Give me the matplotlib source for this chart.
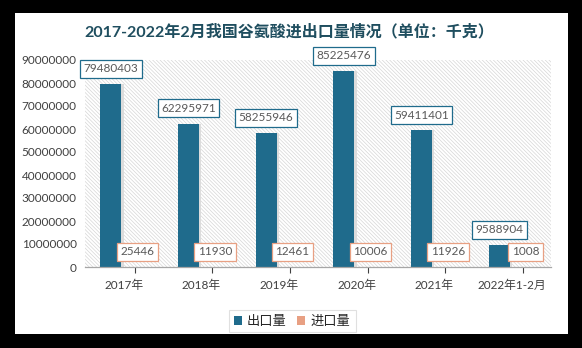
import matplotlib
matplotlib.use("Agg")
import matplotlib.pyplot as plt
from matplotlib.patches import Rectangle, Patch
import numpy as np

categories = ["2017年", "2018年", "2019年", "2020年", "2021年", "2022年1-2月"]
export_vals = [79480403, 62295971, 58255946, 85225476, 59411401, 9588904]
import_vals = [25446, 11930, 12461, 10006, 11926, 1008]
yticks = [0, 10000000, 20000000, 30000000, 40000000, 50000000, 60000000, 70000000, 80000000, 90000000]
title = "2017-2022年2月我国谷氨酸进出口量情况（单位：千克）"

plt.rcParams['font.family'] = ['Lato', 'Noto Sans CJK SC', 'DejaVu Sans']
plt.rcParams['hatch.linewidth'] = 0.5
plt.rcParams['hatch.color'] = '#D6D6D6'

W, H = 582, 348
fig = plt.figure(figsize=(W / 100, H / 100), dpi=100, facecolor='black')
fig.patches.append(Rectangle((15 / W, 1 - 334 / H), (568 - 15) / W, (334 - 13) / H,
                             transform=fig.transFigure, facecolor='white', edgecolor='none', zorder=-5))

ax = fig.add_axes([85 / W, 1 - 267 / H, (551 - 85) / W, (267 - 60) / H])
ax.set_zorder(1)
ax.set_facecolor('white')
ax.add_patch(Rectangle((0, 0), 1, 1, transform=ax.transAxes, facecolor='white',
                       hatch='\\' * 9, edgecolor='#D6D6D6', linewidth=0, zorder=0))

x = np.arange(len(categories))
bw = 0.27
xe = x - 0.168
xi = x + 0.103
exp_color = '#1F6B8C'
imp_color = '#E8A083'
# subtle shadow
ax.bar(xe + 0.03, export_vals, width=bw, color='#DCDCDC', zorder=1, linewidth=0)
ax.bar(xe, export_vals, width=bw, color=exp_color, zorder=2, linewidth=0, label='出口量')
ax.bar(xi, import_vals, width=bw, color=imp_color, zorder=2, linewidth=0, label='进口量')

for xx, v in zip(xe, export_vals):
    ax.annotate(f"{v}", (xx, v), xytext=(0, 11), textcoords='offset points',
                ha='center', va='center', fontsize=8.5, color='#595959', zorder=5,
                bbox=dict(boxstyle='square,pad=0.3', facecolor='white', edgecolor=exp_color, linewidth=0.9))
for xx, v in zip(xi, import_vals):
    ax.annotate(f"{v}", (xx + 0.07, v), xytext=(0, 11), textcoords='offset points',
                ha='center', va='center', fontsize=8.5, color='#595959', zorder=5,
                bbox=dict(boxstyle='square,pad=0.3', facecolor='white', edgecolor=imp_color, linewidth=0.9))

ax.set_xlim(-0.5, len(categories) - 0.5)
ax.set_ylim(0, 90000000)
ax.set_yticks(yticks)
ax.set_yticklabels([str(t) for t in yticks], fontsize=8.5, color='#404040')
ax.set_xticks(x)
ax.set_xticklabels(categories, fontsize=8.5, color='#404040')
ax.tick_params(axis='y', length=0, pad=6)
ax.tick_params(axis='x', length=0, pad=9)
ax.set_xticks(x + 0.14, minor=True)
ax.tick_params(axis='x', which='minor', length=4, color='#404040', width=0.8)
for s in ['top', 'right', 'left']:
    ax.spines[s].set_visible(False)
ax.spines['bottom'].set_color('#A6A6A6')
ax.spines['bottom'].set_linewidth(0.9)

fig.text(289 / W, 1 - 32 / H, title, ha='center', va='center', fontsize=11.5,
         color='#1F4E5F', fontweight='bold')

handles = [Patch(facecolor=exp_color, edgecolor='none'), Patch(facecolor=imp_color, edgecolor='none')]
leg = fig.legend(handles, ['出口量', '进口量'], loc='center', bbox_to_anchor=(292 / W, 1 - 321 / H),
                 ncol=2, fontsize=9.5, frameon=True, fancybox=False, handlelength=0.6, handleheight=0.6,
                 handletextpad=0.4, columnspacing=0.8, borderpad=0.4)
leg.get_frame().set_edgecolor('#D9D9D9')
leg.get_frame().set_linewidth(0.8)
for t in leg.get_texts():
    t.set_color('#262626')

fig.savefig('out.png', dpi=100, facecolor='black')
